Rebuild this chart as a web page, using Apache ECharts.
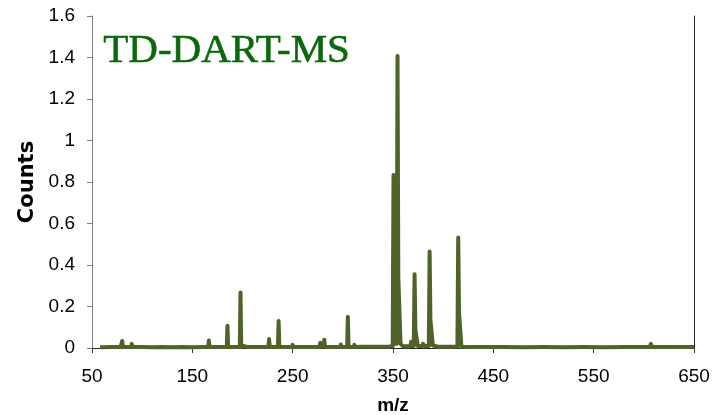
<!DOCTYPE html>
<html>
<head>
<meta charset="utf-8">
<script src="https://cdn.jsdelivr.net/npm/echarts@6/dist/echarts.min.js"></script>
<style>
html,body{margin:0;padding:0;background:#fff;}
#chart{width:716px;height:415px;}
</style>
</head>
<body>
<div id="chart"></div>
<script>
// m/z values and counts
const mz = [58, 60, 70, 78.6, 79.3, 80, 80.7, 81.5, 89, 89.6, 90.3, 100, 110, 120, 130, 140,
  149.4, 150, 150.6, 161.4, 162, 162.6, 165.8, 166.5, 167.2, 175, 184.3, 185, 185.7, 190,
  197.3, 198, 198.7, 200.5, 201, 201.5, 204.5, 205, 205.6, 215, 225.8, 226.5, 227.2, 235.3, 236, 236.7, 240,
  249.4, 250, 250.6, 260, 265.4, 266, 266.6, 270, 276.9, 277.5, 278.1, 280.8, 281.5, 282.2, 290,
  297.4, 298, 298.6, 304.3, 305, 305.7, 310.9, 311.5, 312.1, 320, 322.4, 323, 323.6,
  329.4, 330, 330.6, 335.4, 336, 336.6, 340.4, 341, 341.6, 344.4, 345, 345.6, 349.7,
  350.5, 351.3, 353.7, 354.5, 355.3, 356.8, 357.5, 360, 364.4, 365, 365.6, 367.4, 368, 368.6,
  370.7, 371.5, 372.3, 374, 374.7, 379.4, 380, 381, 381.6, 385.7, 386.5, 387.3, 389, 389.7,
  395, 400.4, 401, 401.6, 405, 414.2, 415, 415.8, 417.5, 418.2, 427.4, 428, 428.6, 435,
  444.4, 445, 445.6, 460, 480, 500, 520, 540, 560, 580, 594.4, 595, 595.6,
  599.4, 600, 600.6, 606.2, 607, 607.8, 615.4, 616, 616.6, 630, 645.4, 646, 646.6, 650];
const counts = [0.004, 0.004, 0.005, 0.005, 0.012, 0.034, 0.015, 0.005, 0.005, 0.02, 0.005, 0.005, 0.004, 0.005, 0.004, 0.005,
  0.004, 0.012, 0.004, 0.005, 0.012, 0.005, 0.005, 0.036, 0.005, 0.005, 0.005, 0.107, 0.005, 0.005,
  0.005, 0.268, 0.005, 0.005, 0.01, 0.005, 0.005, 0.012, 0.005, 0.005, 0.005, 0.043, 0.005, 0.005, 0.13, 0.005, 0.005,
  0.005, 0.015, 0.005, 0.005, 0.005, 0.01, 0.005, 0.005, 0.005, 0.025, 0.006, 0.006, 0.04, 0.005, 0.005,
  0.005, 0.017, 0.005, 0.005, 0.15, 0.006, 0.005, 0.015, 0.005, 0.006, 0.006, 0.012, 0.006,
  0.006, 0.015, 0.006, 0.006, 0.012, 0.006, 0.006, 0.01, 0.006, 0.006, 0.012, 0.006, 0.008,
  0.834, 0.02, 0.02, 1.407, 0.34, 0.34, 0.02, 0.008, 0.008, 0.015, 0.008, 0.008, 0.03, 0.01,
  0.01, 0.356, 0.09, 0.087, 0.01, 0.01, 0.02, 0.025, 0.01, 0.01, 0.465, 0.135, 0.135, 0.012,
  0.006, 0.006, 0.012, 0.006, 0.006, 0.006, 0.533, 0.17, 0.17, 0.006, 0.005, 0.008, 0.005, 0.005,
  0.005, 0.01, 0.005, 0.005, 0.004, 0.005, 0.004, 0.005, 0.004, 0.005, 0.005, 0.008, 0.005,
  0.005, 0.012, 0.005, 0.005, 0.02, 0.005, 0.005, 0.012, 0.005, 0.005, 0.005, 0.008, 0.005, 0.005];
const xTicks = [50, 150, 250, 350, 450, 550, 650];
const yTicks = [0, 0.2, 0.4, 0.6, 0.8, 1, 1.2, 1.4, 1.6];
const titleText = 'TD-DART-MS';

const chart = echarts.init(document.getElementById('chart'), null, {renderer: 'canvas'});
const data = mz.map((m, i) => [m, counts[i]]);
const labelFont = {fontFamily: 'Liberation Sans, Arial, sans-serif', fontSize: 19, color: '#000'};
chart.setOption({
  animation: false,
  backgroundColor: '#fff',
  grid: {left: 92, right: 22, top: 16, bottom: 67, containLabel: false, outerBoundsMode: 'none'},
  xAxis: [{
    type: 'value', min: xTicks[0], max: xTicks[xTicks.length - 1], interval: 100,
    name: 'm/z', nameLocation: 'middle', nameGap: 48,
    nameTextStyle: {fontFamily: 'Liberation Sans, Arial, sans-serif', fontSize: 19, fontWeight: 'bold', color: '#000'},
    axisLine: {lineStyle: {color: '#7f7f7f', width: 1}},
    axisTick: {show: true, length: 5, lineStyle: {color: '#404040'}},
    axisLabel: Object.assign({margin: 19}, labelFont),
    splitLine: {show: false}
  }, {
    type: 'value', position: 'top', min: 50, max: 650,
    axisLine: {show: true, lineStyle: {color: '#262626', width: 1}},
    axisTick: {show: false}, axisLabel: {show: false}, splitLine: {show: false}
  }],
  yAxis: [{
    type: 'value', min: yTicks[0], max: yTicks[yTicks.length - 1], interval: 0.2,
    name: 'Counts', nameLocation: 'middle', nameGap: 51,
    nameTextStyle: {fontFamily: 'DejaVu Sans, sans-serif', fontSize: 21, fontWeight: 'bold', color: '#000'},
    axisLine: {show: true, lineStyle: {color: '#7f7f7f', width: 1}},
    axisTick: {show: true, length: 5, lineStyle: {color: '#7f7f7f'}},
    axisLabel: Object.assign({margin: 17}, labelFont),
    splitLine: {show: false}
  }, {
    type: 'value', position: 'right', min: 0, max: 1.6,
    axisLine: {show: true, lineStyle: {color: '#262626', width: 1}},
    axisTick: {show: false}, axisLabel: {show: false}, splitLine: {show: false}
  }],
  graphic: [{
    type: 'text', left: 103, top: 30, z: 10,
    style: {text: titleText, font: '41px "Liberation Serif", "Times New Roman", serif', fill: '#0a690a',
      stroke: '#0a690a', lineWidth: 0.6}
  }],
  series: [{
    type: 'line', data: data, xAxisIndex: 0, yAxisIndex: 0,
    showSymbol: false, symbol: 'none',
    lineStyle: {color: '#4f6228', width: 4, join: 'round', cap: 'butt'},
    z: 3
  }]
});
</script>
</body>
</html>
